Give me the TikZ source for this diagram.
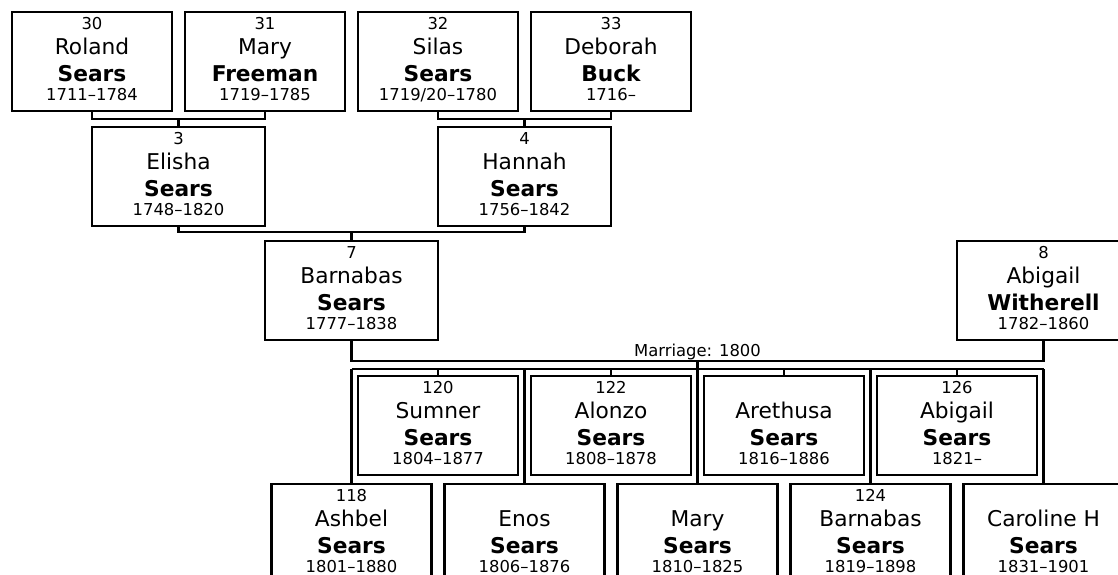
\documentclass[tikz,border=0pt]{standalone}
\usepackage{fontspec}
\setmainfont{DejaVu Sans}

\newcommand\pline[1]{\hbox to\hsize{\hss\smash{#1}\hss}}
\newcommand\person[5][120pt]{%
  \vbox to 74.25pt{\offinterlineskip\hsize=#1\relax
    \vskip12.75pt\pline{\fontsize{12.3}{12}\selectfont #2}%
    \vskip18.75pt\pline{\fontsize{16.3}{16}\selectfont #3}%
    \vskip20.25pt\pline{\fontsize{16.3}{16}\selectfont\bfseries #4}%
    \vskip14.25pt\pline{\fontsize{12.3}{12}\selectfont #5}%
    \vfill}}

\begin{document}
\begin{tikzpicture}[x=0.75pt, y=-0.75pt,
  person/.style={draw, line width=1.9pt, inner sep=0pt, outer sep=0pt, anchor=north},
  link/.style={line width=1.9pt}]
\useasboundingbox (0,0) rectangle (1118,575);

% grandparents
\node[person] (b30) at (92,12)  {\person{30}{Roland}{Sears}{1711–1784}};
\node[person] (b31) at (265,12) {\person{31}{Mary}{Freeman}{1719–1785}};
\node[person] (b32) at (438,12) {\person{32}{Silas}{Sears}{1719/20–1780}};
\node[person] (b33) at (611,12) {\person{33}{Deborah}{Buck}{1716–}};

% parents
\node[person] (elisha) at (178.5,127) {\person[129.75pt]{3}{Elisha}{Sears}{1748–1820}};
\node[person] (hannah) at (524.5,127) {\person[129.75pt]{4}{Hannah}{Sears}{1756–1842}};

% couple
\node[person] (barnabas) at (351.5,241)  {\person[129.75pt]{7}{Barnabas}{Sears}{1777–1838}};
\node[person] (abigail)  at (1043.5,241) {\person[129.75pt]{8}{Abigail}{Witherell}{1782–1860}};
\node[anchor=base, font=\fontsize{12.3}{12}\selectfont] (marr) at (697.5,356) {Marriage: 1800};

% children
\node[person] (sumner)    at (438,376) {\person{120}{Sumner}{Sears}{1804–1877}};
\node[person] (alonzo)    at (611,376) {\person{122}{Alonzo}{Sears}{1808–1878}};
\node[person] (arethusa)  at (784,376) {\person{}{Arethusa}{Sears}{1816–1886}};
\node[person] (abigailj)  at (957,376) {\person{126}{Abigail}{Sears}{1821–}};

\node[person] (ashbel)    at (351.5,484)  {\person{118}{Ashbel}{Sears}{1801–1880}};
\node[person] (enos)      at (524.5,484)  {\person{}{Enos}{Sears}{1806–1876}};
\node[person] (mary)      at (697.5,484)  {\person{}{Mary}{Sears}{1810–1825}};
\node[person] (barnabasj) at (870.5,484)  {\person{124}{Barnabas}{Sears}{1819–1898}};
\node[person] (caroline)  at (1043.5,484) {\person{}{Caroline H}{Sears}{1831–1901}};

% lines
\draw[link] (b30.south) -- ++(0,8) -| (b31.south);
\draw[link] (elisha.north) -- ++(0,-8);
\draw[link] (b32.south) -- ++(0,8) -| (b33.south);
\draw[link] (hannah.north) -- ++(0,-8);
\draw[link] (elisha.south) -- ++(0,6) -| (hannah.south);
\draw[link] (barnabas.north) -- ++(0,-9);
\draw[link] (barnabas.south) -- ++(0,21) -| (abigail.south);

\coordinate (wed) at (697.5,361);
\coordinate (bus) at (697.5,369);
\draw[link] (wed) -- (bus);
\draw[link] (ashbel.north |- bus) -- (caroline.north |- bus);
\foreach \k in {ashbel,sumner,enos,alonzo,mary,arethusa,barnabasj,abigailj,caroline}
  \draw[link] (\k.north) -- (\k.north |- bus);
\end{tikzpicture}
\end{document}
